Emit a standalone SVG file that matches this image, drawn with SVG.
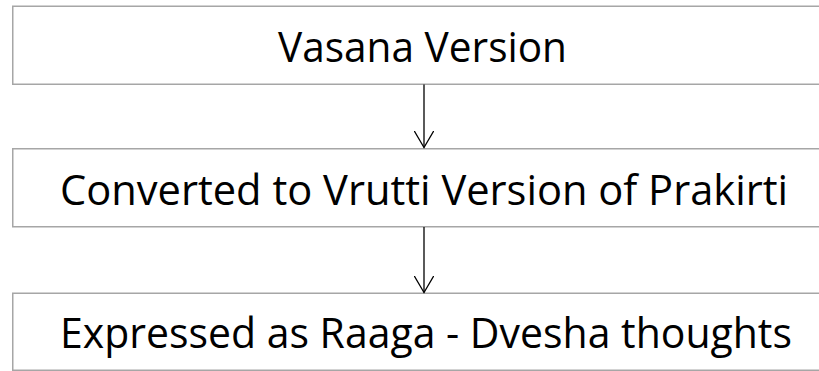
<svg xmlns="http://www.w3.org/2000/svg" width="819" height="371" viewBox="0 0 819 371">
<style>
.box{fill:#fff;stroke:#a6a6a6;stroke-width:1.5}
.lbl{font-family:"Open Sans","Liberation Sans",sans-serif;font-size:42px;fill:#000;text-anchor:middle}
.conn{stroke:#000;stroke-width:1.3;fill:none}
</style>
<defs>
<marker id="arr" viewBox="0 0 18 20" refX="17" refY="10" markerWidth="18" markerHeight="20" markerUnits="userSpaceOnUse" orient="auto">
<path d="M0,0 L17,10 L0,20" fill="none" stroke="#000" stroke-width="1.3"/>
</marker>
</defs>
<rect width="819" height="371" fill="#fff"/>
<g id="node1"><rect class="box" x="12.75" y="6.25" width="822" height="78"/><text class="lbl" x="422.5" y="62" textLength="289" lengthAdjust="spacingAndGlyphs">Vasana Version</text></g>
<g id="node2"><rect class="box" x="12.75" y="148.75" width="822" height="78"/><text class="lbl" x="424" y="205" textLength="728" lengthAdjust="spacingAndGlyphs">Converted to Vrutti Version of Prakirti</text></g>
<g id="node3"><rect class="box" x="12.75" y="293.25" width="822" height="77"/><text class="lbl" x="426" y="348" textLength="732" lengthAdjust="spacingAndGlyphs">Expressed as Raaga - Dvesha thoughts</text></g>
<g id="connectors">
<line class="conn" x1="424" y1="84.5" x2="424" y2="147.5" marker-end="url(#arr)"/>
<line class="conn" x1="424" y1="227" x2="424" y2="292.5" marker-end="url(#arr)"/>
</g>
</svg>
